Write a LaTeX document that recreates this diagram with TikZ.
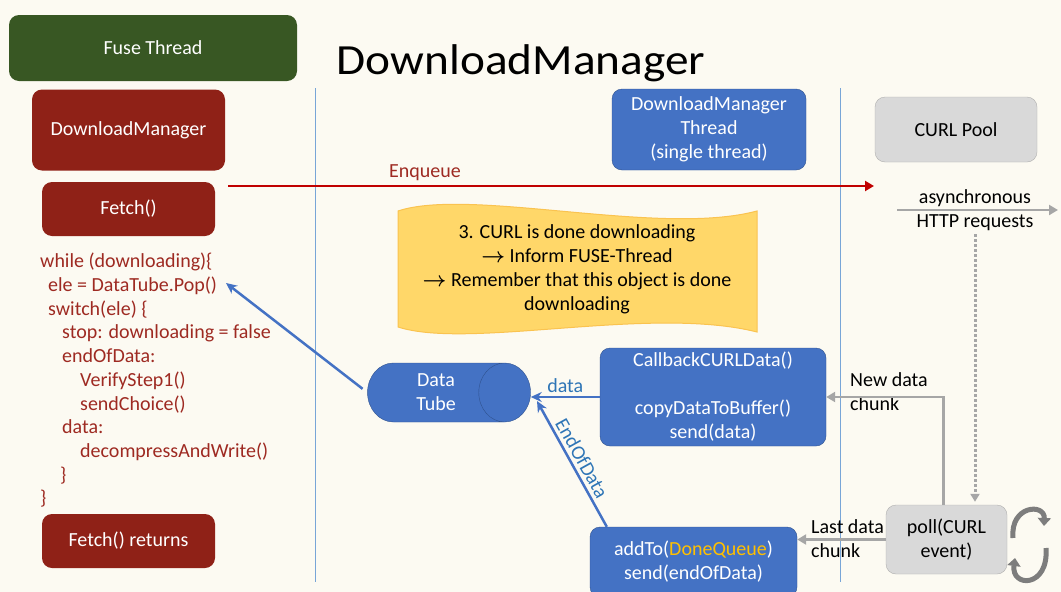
\documentclass[tikz,border=0pt]{standalone}
\usepackage{amsmath}
\usepackage{fontspec}
\setmainfont{Carlito}
\usetikzlibrary{shapes.geometric,arrows.meta,positioning,calc}

\definecolor{bgcream}{RGB}{252,250,242}
\definecolor{fusegreen}{RGB}{56,87,35}
\definecolor{dmred}{RGB}{143,33,23}
\definecolor{codered}{RGB}{158,42,34}
\definecolor{enqred}{RGB}{192,0,0}
\definecolor{dmblue}{RGB}{68,114,196}
\definecolor{dmbluebd}{RGB}{47,82,143}
\definecolor{lblblue}{RGB}{46,117,182}
\definecolor{lanecol}{RGB}{120,165,215}
\definecolor{boxgray}{RGB}{217,217,217}
\definecolor{graybd}{RGB}{175,175,175}
\definecolor{arrowgray}{RGB}{166,166,166}
\definecolor{icongray}{RGB}{125,125,125}
\definecolor{wavefill}{RGB}{255,215,105}
\definecolor{wavebd}{RGB}{250,195,80}
\definecolor{queuegold}{RGB}{255,192,0}

\tikzstyle{fusebox} = [rectangle, rounded corners=10pt, fill=fusegreen, text=white, inner sep=0pt]
\tikzstyle{redbox} = [rectangle, rounded corners=10pt, fill=dmred, text=white, inner sep=0pt, align=center]
\tikzstyle{bluebox} = [rectangle, rounded corners=10pt, fill=dmblue, draw=dmbluebd, text=white, inner sep=0pt, align=center]
\tikzstyle{graybox} = [rectangle, rounded corners=10pt, fill=boxgray, draw=graybd, text=black, inner sep=0pt, align=center]
\tikzstyle{tube} = [cylinder, aspect=1.4, fill=dmblue, draw=dmbluebd, text=white, align=center, inner sep=0pt, minimum width=59pt, minimum height=163pt]
\tikzstyle{codetext} = [text=codered, align=left, inner sep=0pt, font=\fontsize{20}{23.7}\selectfont]
\tikzstyle{lane} = [draw=lanecol, line width=0.7pt]
\tikzstyle{wave} = [fill=wavefill, draw=wavebd, line width=1pt]
\tikzstyle{redarrow} = [draw=enqred, line width=2.5pt, -{Triangle[length=9pt,width=10pt]}]
\tikzstyle{bluearrow} = [draw=dmblue, line width=2.5pt, -{Stealth[length=11pt,width=10pt]}]
\tikzstyle{grayarrow} = [draw=arrowgray, line width=2.5pt, -{Triangle[length=9pt,width=10pt]}]
\tikzstyle{dotarrow} = [draw=arrowgray, line width=3pt, dash pattern=on 3pt off 2pt, -{Triangle[length=8pt,width=9pt]}]
\tikzstyle{cycarrow} = [draw=icongray, line width=5pt, -{Triangle[length=8pt,width=13pt]}]

\begin{document}
\begin{tikzpicture}[x=1pt,y=-1pt,font=\fontsize{20}{24}\selectfont]
\useasboundingbox (0,0) rectangle (1061,592);
\fill[bgcream] (0,0) rectangle (1061,592);

% thread lanes
\draw[lane] (315,88) -- (315,582);
\draw[lane] (840,88) -- (840,582);

% fuse thread side
\node (fuse) [fusebox, minimum width=288pt, minimum height=66pt] at (153,48) {Fuse Thread};
\node (title) [anchor=base, inner sep=0pt] at (521,74) {\fontsize{43}{50}\selectfont\scalebox{1.1}[1]{DownloadManager}};
\node (dm) [redbox, minimum width=193pt, minimum height=81pt] at (128.5,130) {DownloadManager};
\node (fetch) [redbox, minimum width=173pt, minimum height=54pt] at (128.5,209) {Fetch()};
\node (loop) [codetext, anchor=north west] at (40,253) {while (downloading)\{\\
\hspace*{8pt}ele = DataTube.Pop()\\
\hspace*{8pt}switch(ele) \{\\
\hspace*{22pt}stop: downloading = false\\
\hspace*{22pt}endOfData:\\
\hspace*{40pt}VerifyStep1()\\
\hspace*{40pt}sendChoice()\\
\hspace*{22pt}data:\\
\hspace*{40pt}decompressAndWrite()\\
\hspace*{20pt}\}\\
\}};
\node (ret) [redbox, minimum width=173pt, minimum height=54pt] at (128.5,541) {Fetch() returns};

% download manager thread
\node (dmthread) [bluebox, minimum width=194pt, minimum height=81pt] at (709,129.5) {DownloadManager\\Thread\\(single thread)};
\draw[wave] (398,211) .. controls (470,187) and (660,237) .. (757,211)
  -- (757,332) .. controls (650,305) and (470,350) .. (398,327) -- cycle;
\node (done) [align=center] at (577,269) {3. CURL is done downloading\\$\boldsymbol{\rightarrow}$ Inform FUSE-Thread\\$\boldsymbol{\rightarrow}$ Remember that this object is done\\downloading};
\node (tube) [tube] at (436,392.5) {Data\\Tube};
\node (cb) [bluebox, minimum width=226pt, minimum height=98pt] at (713,397) {CallbackCURLData()\\[24pt]copyDataToBuffer()\\send(data)};
\node (addto) [bluebox, minimum width=207pt, minimum height=70pt] at (693.5,562) {addTo(\textcolor{queuegold}{DoneQueue})\\send(endOfData)};

% curl side
\node (pool) [graybox, minimum width=162pt, minimum height=65pt] at (956,129.5) {CURL Pool};
\node (http) [align=center] at (975,210) {asynchronous\\HTTP requests};
\node (poll) [graybox, minimum width=121pt, minimum height=69pt] at (946.5,539.5) {poll(CURL\\event)};
\node (newchunk) [align=left, anchor=west, inner sep=0pt] at (850,392) {New data\\chunk};
\node (lastchunk) [align=left, anchor=west, inner sep=0pt] at (811,539) {Last data\\chunk};

\coordinate (enqstart) at (228,186);
\coordinate (enqend) at (874,186);
\coordinate (asyncstart) at (897,210);
\coordinate (asyncend) at (1058,210);
\coordinate (popend) at (226,283);
\coordinate (eodend) at (537,401);

\draw[redarrow] (enqstart) -- node[pos=0.305, above=1pt, text=codered] {Enqueue} (enqend);
\draw[grayarrow] (asyncstart) -- (asyncend);
\draw[dotarrow, shorten >=3pt] (http.south) -- (http.south |- poll.north);
\draw[bluearrow, shorten <=6pt] (tube.west) -- (popend);
\draw[bluearrow] (cb.west) -- node[above, text=lblblue] {data} (cb.west -| tube.east);
\draw[bluearrow] ($(addto.north west)+(17,0)$) -- node[midway, sloped, above, text=lblblue] {EndOfData} (eodend);
\draw[grayarrow] ([xshift=-3pt]poll.north) |- (cb.east);
\draw[grayarrow] (poll.west) -- (poll.west -| addto.east);

% polling loop icon
\draw[cycarrow] (1013,538) .. controls (1010,505) and (1045,503) .. (1044,526);
\draw[cycarrow] (1046,548) .. controls (1049,588) and (1011,588) .. (1015,558);
\end{tikzpicture}
\end{document}
